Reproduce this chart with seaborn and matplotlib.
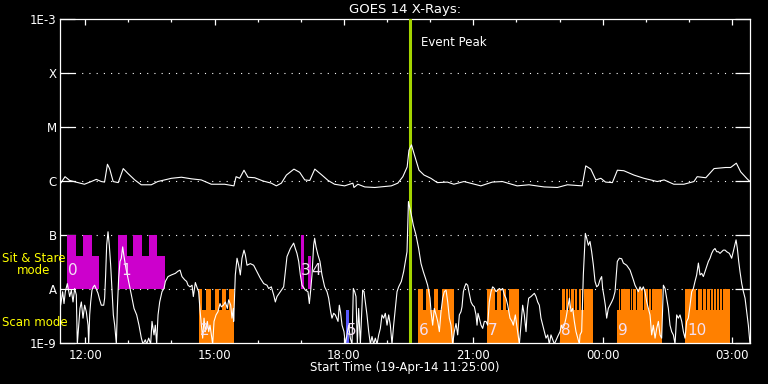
import numpy as np
import pandas as pd
import matplotlib
matplotlib.use('Agg')
import matplotlib.pyplot as plt
import matplotlib.dates as mdates
import seaborn as sns

# start of the plot window
start = pd.Timestamp('2014-04-19 11:25:00')
end = pd.Timestamp('2014-04-20 03:25:00')
peak_min = 487.0

# long channel (1-8 A): minutes after start, log10 flux
long_min = [1, 7, 13.5, 25, 34, 43.5, 50.5, 57.5, 62, 66, 69, 74, 81, 88, 94.5, 104, 113, 127, 136, 155,
            169, 183, 196.5, 210.5, 229, 242, 245, 250, 256, 261.5, 271, 282.5, 294, 301, 308, 315, 325.5,
            333.5, 340.5, 347.5, 354.5, 363.5, 373, 382, 396, 407.5, 409, 414.5, 424, 438, 461, 470, 477,
            483, 485.5, 489, 492.5, 499.5, 506.5, 516, 525, 539, 548, 562, 585.5, 601.5, 615.5, 636, 652.5,
            673.5, 692, 706, 726.5, 731.5, 738.5, 745.5, 752.5, 759, 768.5, 775.5, 784.5, 798.5, 812.5, 831,
            840.5, 854, 868, 882, 886.5, 898.5, 910, 926, 933, 941, 947, 956, 960]
long_log = [-6.04, -5.92, -5.99, -6.03, -6.06, -6.01, -5.97, -6.01, -6.02, -5.69, -5.77, -6.01, -6.03, -5.77,
            -5.86, -5.98, -6.07, -6.07, -6.01, -5.95, -5.93, -5.96, -5.98, -6.06, -6.06, -6.09, -5.92, -5.95,
            -5.80, -5.93, -5.94, -6.00, -6.04, -6.09, -6.04, -5.89, -5.78, -5.84, -5.98, -5.99, -5.78, -5.88,
            -5.99, -6.06, -6.09, -6.04, -6.12, -6.06, -6.11, -6.12, -6.09, -6.04, -5.92, -5.74, -5.43, -5.33,
            -5.49, -5.80, -5.89, -5.95, -6.03, -6.02, -6.06, -6.01, -6.09, -6.02, -6.01, -6.09, -6.07, -6.11,
            -6.12, -6.07, -6.09, -5.72, -5.78, -5.98, -5.95, -6.02, -6.03, -5.80, -5.81, -5.89, -5.95, -6.01,
            -5.98, -6.06, -6.06, -6.01, -5.92, -5.94, -5.77, -5.75, -5.75, -5.67, -5.83, -5.96, -6.01]

# short channel (0.5-4 A): minutes after start, log10 flux
short_min = [0.9, 3.7, 5.6, 7.4, 10.2, 13.5, 15.8, 18.1, 20.4, 22.7, 24.1, 26.0, 27.8, 29.7, 32.0, 34.3, 36.6,
             39.0, 39.9, 41.3, 42.7, 44.5, 46.4, 48.2, 51.0, 52.9, 55.2, 57.5, 60.8, 62.1, 63.5, 64.9, 66.8,
             68.6, 70.5, 72.3, 74.2, 76.1, 78.4, 79.8, 81.6, 83.5, 85.3, 87.2, 89.1, 91.8, 95.5, 99.3, 103.0,
             106.7, 109.9, 113.2, 115.5, 118.7, 120.6, 123.4, 126.1, 128.0, 130.8, 132.6, 134.5, 136.4, 138.7,
             141.9, 144.7, 146.6, 150.3, 154.9, 160.5, 164.2, 167.0, 169.7, 173.5, 176.2, 178.1, 180.9, 183.7,
             185.5, 188.3, 191.1, 192.9, 194.8, 196.7, 198.5, 200.4, 202.2, 205.0, 206.9, 208.7, 210.6, 212.4,
             214.3, 217.1, 219.8, 222.6, 224.5, 227.3, 230.0, 232.8, 234.7, 237.5, 239.3, 241.2,
             241.6, 243.9, 246.3, 248.6, 250.9, 253.2, 256.0, 257.9, 260.2, 264.8, 269.4, 274.1, 278.7, 283.4,
             288.0, 290.3, 294.0, 297.3, 299.6, 301.9, 306.6, 311.2, 313.5, 315.8, 320.5, 325.1, 327.4, 329.7,
             332.1, 334.4, 336.7, 341.3, 345.0, 346.9, 348.8, 350.6, 352.9, 354.3, 356.2, 358.9, 361.7, 364.5,
             368.2, 371.5, 373.8, 376.6, 378.4, 380.8, 383.1, 386.8, 388.6, 390.5, 392.4, 395.1, 397.0, 399.3,
             401.6, 403.9, 406.3, 408.1, 410.0, 411.8, 413.7, 415.5, 417.9, 421.1, 423.0, 424.8, 427.1, 429.5,
             431.8, 434.1, 436.4, 438.7, 441.1, 443.4, 445.7, 448.0, 450.3, 452.6, 455.0, 457.3, 459.6, 461.9,
             464.2, 466.6, 468.9, 471.2, 474.9, 478.1, 480.5, 482.8, 484.8, 489.3,
             491.6, 495.3, 499.0, 502.3, 505.5, 509.2, 511.5, 514.8, 516.2, 518.5, 520.8, 523.1, 525.5, 527.8,
             530.1, 532.4, 534.7, 537.1, 539.4, 541.7, 544.0, 546.3, 548.6, 551.0, 553.3, 555.6, 557.9, 559.3,
             561.2, 563.0, 564.9, 567.2, 569.5, 571.8, 574.2, 576.5, 578.8, 580.2, 581.6, 583.4, 585.8, 588.1,
             590.4, 592.7, 595.0, 597.3, 599.7, 602.0, 604.3, 606.6, 608.9, 611.3, 613.6, 615.9, 618.2, 620.5,
             622.9, 626.1, 628.9, 630.7, 633.5, 636.8, 639.1, 641.4, 643.7, 646.0, 648.4, 650.2, 652.1, 655.3,
             657.6, 660.0, 662.3, 664.6, 666.9, 669.2, 671.6, 673.9, 676.2, 678.5, 680.8, 683.1, 687.8, 692.4,
             695.7, 697.5, 699.4, 701.7, 704.0, 706.3, 708.7, 711.0, 713.3, 715.6, 717.9, 720.3, 722.6,
             723.5, 725.8, 728.1, 730.0, 730.9, 732.8, 735.1, 737.4, 739.7, 742.1, 744.4, 746.7, 749.0, 751.3,
             753.6, 755.0, 756.9, 758.7, 760.6, 762.9, 765.2, 767.6, 769.9, 772.2, 773.6, 775.4, 778.2, 781.5,
             783.8, 788.4, 793.1, 795.4, 797.7, 800.0, 802.3, 804.7, 807.0, 809.3, 811.6, 813.9, 816.3, 818.6,
             820.9, 823.2, 825.5, 827.9, 830.2, 832.5, 834.8, 837.1, 839.5, 841.8, 844.1, 846.4, 848.7, 851.0,
             853.4, 855.7, 858.0, 860.3, 862.6, 865.0, 867.3, 869.6, 871.9, 874.2, 876.6, 878.9, 881.2, 883.5,
             885.8, 888.2, 890.5, 892.8, 895.1, 897.4, 899.7, 902.1, 904.4, 906.7, 909.0, 911.3, 913.7, 916.0,
             918.3, 920.6, 922.9, 925.3, 927.6, 931.3, 934.5, 937.8, 940.6, 942.4, 944.3, 946.1, 948.5, 950.8,
             953.1, 955.4, 957.7, 960.0]
short_log = [-8.30, -8.05, -8.27, -8.05, -7.90, -8.14, -8.02, -8.24, -7.99, -8.11, -9.02, -8.67, -8.36, -8.24,
             -8.54, -8.30, -8.42, -8.67, -9.02, -8.48, -8.24, -8.02, -7.96, -7.93, -8.02, -8.08, -8.20, -8.30,
             -8.30, -8.17, -7.74, -7.19, -6.94, -7.19, -7.56, -7.99, -8.48, -8.67, -9.02, -8.36, -7.80, -7.49,
             -7.43, -7.22, -7.40, -7.62, -7.86, -8.11, -8.36, -8.48, -8.67, -8.91, -9.02, -8.94, -9.02, -8.91,
             -9.02, -8.60, -8.85, -8.67, -9.02, -8.48, -8.24, -8.05, -7.99, -7.86, -7.77, -7.74, -7.71, -7.67,
             -7.65, -7.77, -7.83, -7.86, -7.93, -7.96, -7.93, -8.14, -7.88, -7.99, -8.05, -8.39, -8.67, -8.91,
             -8.54, -8.79, -8.60, -8.79, -8.67, -8.85, -9.02, -8.60, -8.48, -8.42, -8.27, -8.33, -8.30, -8.24,
             -8.36, -8.20, -8.30, -8.54, -8.36,
             -8.60, -7.74, -7.43, -7.56, -7.74, -7.43, -7.28, -7.37, -7.56, -7.53, -7.56, -7.68, -7.80, -7.90,
             -7.93, -7.99, -7.96, -8.11, -8.24, -8.14, -8.05, -7.96, -7.68, -7.40, -7.25, -7.15, -7.25, -7.34,
             -7.49, -7.74, -7.93, -8.02, -8.05, -8.27, -8.02, -7.74, -7.19, -7.06, -7.22, -7.37, -7.49, -7.74,
             -7.96, -8.05, -8.17, -8.42, -8.54, -8.45, -8.48, -8.60, -8.30, -8.45, -8.67, -8.79, -9.02, -8.85,
             -8.67, -8.91, -9.02, -7.99, -8.05, -8.14, -9.02, -8.36, -9.02, -8.02, -8.05, -8.24, -8.48, -8.79,
             -9.02, -8.88, -9.02, -8.91, -9.02, -8.85, -8.73, -8.48, -8.54, -8.45, -8.67, -8.48, -8.67, -9.02,
             -8.67, -8.36, -8.05, -7.96, -7.86, -7.68, -7.49, -7.31, -6.38, -6.66,
             -6.82, -7.00, -7.25, -7.53, -7.68, -7.83, -7.93, -8.17, -8.42, -8.67, -8.36, -8.48, -8.60, -8.79,
             -8.42, -8.17, -8.05, -8.02, -8.24, -8.54, -8.67, -9.02, -8.79, -8.64, -8.85, -8.48, -8.42, -8.33,
             -8.05, -7.96, -7.90, -7.93, -8.08, -8.24, -8.30, -8.33, -8.48, -8.67, -8.45, -8.54, -8.67, -8.73,
             -8.60, -8.60, -8.67, -8.24, -8.05, -7.96, -7.99, -8.05, -8.02, -7.99, -8.02, -7.99, -8.11, -8.17,
             -8.30, -8.54, -8.60, -8.67, -8.48, -8.79, -9.02, -8.67, -8.30, -8.48, -8.79, -8.36, -8.17, -8.14,
             -8.11, -8.08, -8.14, -8.24, -8.30, -8.54, -8.67, -8.79, -8.91, -8.85, -9.02, -8.85, -9.02, -8.88,
             -8.79, -8.67, -8.73, -8.67, -8.54, -8.36, -8.17, -8.42, -8.36, -8.60, -8.79, -8.91, -9.02,
             -8.85, -8.79, -7.74, -7.19, -6.97, -7.06, -7.19, -7.12, -7.31, -7.56, -7.86, -7.96, -7.93, -7.83,
             -7.77, -7.99, -8.14, -8.30, -8.54, -8.36, -8.30, -8.24, -8.17, -8.05, -7.80, -7.49, -7.43, -7.44,
             -7.52, -7.56, -7.65, -7.74, -7.83, -7.93, -7.99, -8.05, -7.96, -8.02, -7.96, -8.05, -8.24, -8.36,
             -8.48, -8.85, -8.67, -8.91, -8.73, -8.60, -8.85, -8.91, -7.93, -7.99, -8.17, -8.36, -8.67, -8.79,
             -8.85, -9.02, -8.48, -8.54, -8.48, -8.60, -8.79, -8.91, -8.60, -8.54, -8.30, -8.05, -7.99, -7.86,
             -7.74, -7.52, -7.74, -7.71, -7.77, -7.68, -7.59, -7.49, -7.43, -7.34, -7.28, -7.25, -7.31, -7.31,
             -7.34, -7.31, -7.28, -7.28, -7.31, -7.34, -7.43, -7.25, -7.09, -7.25, -7.49, -7.68, -7.90, -8.05,
             -8.17, -8.42, -8.67, -9.02]

# instrument observing blocks (minutes after start)
sit_blocks = [(9.7, 54.3), (80.7, 146.1), (335.3, 339.5), (345.0, 349.6)]
sit_tall = [(9.7, 21.8), (32.0, 44.1), (80.7, 92.8), (101.6, 113.7), (123.8, 135.0), (335.3, 339.5)]
scan_blocks = [(193.8, 242.1), (498.1, 548.6), (594.1, 638.2), (695.7, 741.1), (775.0, 837.2), (869.6, 932.2)]
scan_tall = [(193.8, 197.6), (203.1, 209.7), (215.7, 220.8), (225.4, 231.0), (235.5, 242.1),
             (498.1, 504.6), (509.2, 514.8), (520.3, 526.3), (531.1, 548.6),
             (594.1, 605.6), (608.4, 613.1), (616.8, 620.5), (625.1, 638.2),
             (698.4, 702.6), (704.0, 706.1), (707.5, 709.6), (711.0, 715.2), (716.5, 719.3), (721.4, 724.2),
             (725.6, 727.7), (729.1, 741.1),
             (777.1, 779.8), (781.2, 793.0), (794.4, 796.5), (797.9, 801.4), (802.8, 811.1), (812.5, 818.1),
             (819.5, 821.6), (823.0, 837.2),
             (869.6, 884.9), (887.0, 889.8), (891.1, 893.9), (895.3, 898.1), (899.5, 904.3), (905.7, 908.5),
             (909.9, 912.6), (914.0, 916.8), (918.2, 921.0), (922.4, 932.2)]
other_blocks = [(397.9, 402.1)]

block_labels = ['0', '1', '2', '3', '4', '5', '6', '7', '8', '9', '10']
label_min = [11, 85, 195, 335.5, 349.0, 399.3, 499.5, 595.5, 697, 776.3, 872.3]
label_band = ['sit', 'sit', 'scan', 'sit', 'sit', 'scan', 'scan', 'scan', 'scan', 'scan', 'scan']

level_ticks = [1e-9, 1e-8, 1e-7, 1e-6, 1e-5, 1e-4, 1e-3]
level_names = ['1E-9', 'A', 'B', 'C', 'M', 'X', '1E-3']


def to_time(m):
    return start + pd.to_timedelta(np.asarray(m, dtype=float), unit='min')


def draw_blocks(ax, spans, bottom, top, color):
    s = np.array([a for a, b in spans])
    e = np.array([b for a, b in spans])
    x = mdates.date2num(to_time(s))
    ax.bar(x, top - bottom, width=(e - s) / 1440.0, bottom=bottom, align='edge',
           color=color, linewidth=0, zorder=2)


sns.set_style('dark')
plt.rcParams['font.family'] = ['DejaVu Sans']

fig = plt.figure(figsize=(7.68, 3.84), dpi=100, facecolor='black')
ax = fig.add_axes([60 / 768, 41 / 384, 690 / 768, 324 / 384])
ax.set_facecolor('black')

long_df = pd.DataFrame({'time': to_time(long_min), 'flux': 10 ** np.array(long_log)})
short_df = pd.DataFrame({'time': to_time(short_min), 'flux': 10 ** np.array(short_log)})

sns.lineplot(data=long_df, x='time', y='flux', ax=ax, color='white', linewidth=0.8,
             estimator=None, sort=False, zorder=4)
sns.lineplot(data=short_df, x='time', y='flux', ax=ax, color='white', linewidth=0.8,
             estimator=None, sort=False, zorder=4)

ax.set_yscale('log')

# sit & stare band: 1E-8 .. 1E-7 ; scan band: 1E-9 .. 1E-8
half = 10 ** 0.611
draw_blocks(ax, sit_blocks, 1e-8, 1e-8 * half, '#cc00cc')
draw_blocks(ax, sit_tall, 1e-8, 1e-7, '#cc00cc')
draw_blocks(ax, scan_blocks, 1e-9, 1e-9 * half, '#ff8000')
draw_blocks(ax, scan_tall, 1e-9, 1e-8, '#ff8000')
draw_blocks(ax, other_blocks, 1e-9, 1e-9 * half, '#5a5aff')

for lab, m, band in zip(block_labels, label_min, label_band):
    y = 10 ** -7.80 if band == 'sit' else 10 ** -8.91
    ax.text(mdates.date2num(to_time(m)), y, lab, color='#f4e0f4', fontsize=11,
            family=['Liberation Sans Narrow', 'DejaVu Sans'],
            ha='left', va='bottom', zorder=5)

# event peak
peak_x = mdates.date2num(to_time(peak_min))
ax.axvline(peak_x, color='#a4d400', linewidth=2.2, zorder=3)
ax.text(peak_x + 15 / 1440, 0.926, 'Event Peak', transform=ax.get_xaxis_transform(),
        color='white', fontsize=8.5, ha='left', va='center')

ax.set_xlim(start, end)
ax.set_ylim(1e-9, 1e-3)
ax.set_yticks(level_ticks)
ax.set_yticklabels(level_names)
ax.yaxis.set_minor_locator(matplotlib.ticker.NullLocator())
ax.xaxis.set_major_locator(mdates.HourLocator(byhour=[0, 3, 6, 9, 12, 15, 18, 21]))
ax.xaxis.set_minor_locator(mdates.HourLocator())
ax.xaxis.set_major_formatter(mdates.DateFormatter('%H:%M'))

ax.grid(False)
for lv in level_ticks[1:-1]:
    ax.axhline(lv, color='white', linewidth=0.8, linestyle=(0, (1, 5.5)), zorder=1)

for sp in ax.spines.values():
    sp.set_color('white')
    sp.set_linewidth(0.9)
    sp.set_visible(True)

ax.tick_params(axis='y', which='major', direction='in', length=10.5, width=0.9, color='white',
               labelcolor='white', labelsize=8.5, left=True, right=True, pad=2.5)
ax.tick_params(axis='x', which='major', direction='in', length=4.5, width=0.9, color='white',
               labelcolor='white', labelsize=8.5, top=True, bottom=True, pad=4)
ax.tick_params(axis='x', which='minor', direction='in', length=2, width=0.9, color='white',
               top=True, bottom=True)
ax.set_xlabel('')
ax.set_ylabel('')

fig.text(405 / 768, 1 - 10 / 384, 'GOES 14 X-Rays:', color='white', fontsize=9.5, ha='center', va='center')
fig.text(405 / 768, 1 - 368 / 384, 'Start Time (19-Apr-14 11:25:00)', color='white', fontsize=8.5,
         ha='center', va='center')
fig.text(2 / 768, 1 - 259 / 384, 'Sit & Stare', color='yellow', fontsize=8.5, ha='left', va='center')
fig.text(34 / 768, 1 - 271 / 384, 'mode', color='yellow', fontsize=8.5, ha='center', va='center')
fig.text(2 / 768, 1 - 323 / 384, 'Scan mode', color='yellow', fontsize=8.5, ha='left', va='center')

fig.savefig('out.png', dpi=100, facecolor='black')
